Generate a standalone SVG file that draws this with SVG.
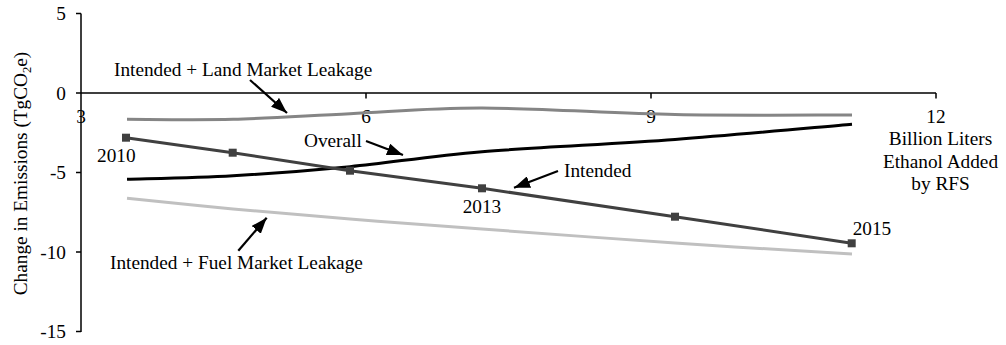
<svg xmlns="http://www.w3.org/2000/svg" width="1006" height="345" viewBox="0 0 1006 345">
<style>
text{font-family:"Liberation Serif","Times New Roman",serif;font-size:19.3px;fill:#000}
.ax{stroke:#000;stroke-width:1.5;fill:none}
.ser{fill:none;stroke-width:3;stroke-linejoin:round;stroke-linecap:butt}
.arr{stroke:#000;stroke-width:2.2;fill:none;marker-end:url(#ah)}
.sq{fill:#404040}
.end{text-anchor:end}
.mid{text-anchor:middle}
</style>
<defs>
<marker id="ah" markerWidth="16" markerHeight="12" refX="16" refY="6" orient="auto" markerUnits="userSpaceOnUse">
<path d="M0,0 L16,6 L0,12 z" fill="#000"/>
</marker>
</defs>
<rect width="1006" height="345" fill="#fff"/>
<g id="axes">
<path class="ax" d="M81,13.5 V332 M76,13.5 H81 M76,93 H81 M76,172.5 H81 M76,252 H81 M76,331.5 H81"/>
<path class="ax" d="M81,93 H936 M366,93 V98.5 M651,93 V98.5 M936,93 V98.5"/>
<text class="end" x="66" y="20">5</text>
<text class="end" x="66" y="99.5">0</text>
<text class="end" x="66" y="179">-5</text>
<text class="end" x="66" y="258.5">-10</text>
<text class="end" x="66" y="338">-15</text>
<text class="mid" x="81" y="122.5">3</text>
<text class="mid" x="366" y="122.5">6</text>
<text class="mid" x="651" y="122.5">9</text>
<text class="mid" x="936" y="122.5">12</text>
<text class="mid" transform="translate(26.5,173.5) rotate(-90)">Change in Emissions (TgCO<tspan font-size="12.5" dy="4">2</tspan><tspan dy="-4">e)</tspan></text>
<text class="mid" x="940.5" y="145">Billion Liters</text>
<text class="mid" x="940.5" y="167.5">Ethanol Added</text>
<text class="mid" x="940.5" y="190">by RFS</text>
</g>
<g id="series-land">
<path class="ser" stroke="#858585" d="M127,119.3 C144.7,119.3 195.8,120.2 233,119.3 C270.2,118.4 308.5,115.6 350,113.7 C391.5,111.8 427.8,107.9 482,108 C536.2,108.1 613.3,113.3 675,114.5 C736.7,115.7 822.5,114.9 852,115"/>
</g>
<g id="series-fuel">
<path class="ser" stroke="#c0c0c0" d="M127,198.3 C144.7,200.1 195.8,205.5 233,209 C270.2,212.45 308.5,215.7 350,219 C391.5,222.3 427.8,225 482,229 C536.2,233 613.3,238.8 675,243 C736.7,247.2 822.5,252.2 852,254"/>
</g>
<g id="series-overall">
<path class="ser" stroke="#000" d="M127,179.3 C144.7,178.7 195.8,177.8 233,175.7 C270.2,173.6 308.5,170.7 350,166.7 C391.5,162.7 427.8,156.2 482,151.7 C536.2,147.2 613.3,144.1 675,139.5 C736.7,134.9 822.5,126.8 852,124.3"/>
</g>
<g id="series-intended">
<path class="ser" stroke="#404040" d="M126,137.7 L232.7,152.7 L350,170.7 L482,188.3 L675,216.7 L851.7,243.3"/>
<rect class="sq" x="122" y="133.7" width="8" height="8"/>
<rect class="sq" x="228.7" y="148.7" width="8" height="8"/>
<rect class="sq" x="346" y="166.7" width="8" height="8"/>
<rect class="sq" x="478" y="184.3" width="8" height="8"/>
<rect class="sq" x="671" y="212.7" width="8" height="8"/>
<rect class="sq" x="847.7" y="239.3" width="8" height="8"/>
</g>
<g id="labels">
<text x="114" y="76">Intended + Land Market Leakage</text>
<text x="304" y="146.7">Overall</text>
<text x="564" y="177.3">Intended</text>
<text x="110" y="269.3">Intended + Fuel Market Leakage</text>
<text x="97" y="162">2010</text>
<text x="462.7" y="213.3">2013</text>
<text x="852.7" y="235">2015</text>
</g>
<g id="connectors">
<line class="arr" x1="250" y1="80" x2="287" y2="113"/>
<line class="arr" x1="366" y1="141" x2="403" y2="155"/>
<line class="arr" x1="558" y1="171" x2="514" y2="187.7"/>
<line class="arr" x1="238.3" y1="250.7" x2="266.7" y2="217.7"/>
</g>
</svg>
